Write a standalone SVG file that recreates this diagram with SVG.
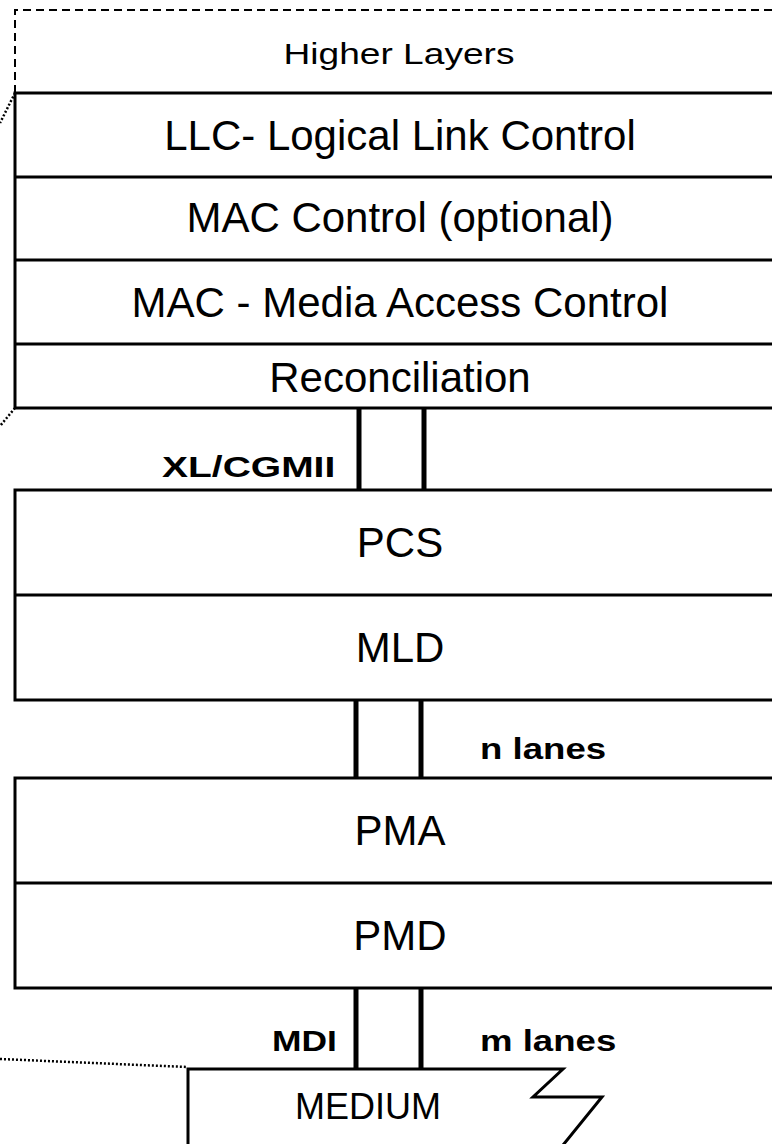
<svg xmlns="http://www.w3.org/2000/svg" width="772" height="1144" viewBox="0 0 772 1144">
  <style>
    .box { fill: #ffffff; stroke: #000000; stroke-width: 3; }
    .div { stroke: #000000; stroke-width: 3; fill: none; }
    .lane { stroke: #000000; stroke-width: 5; fill: none; }
    .dash { stroke: #000000; stroke-width: 2; fill: none; stroke-dasharray: 8 5; }
    .dot { stroke: #000000; stroke-width: 2.5; fill: none; stroke-dasharray: 2 2; }
    .t { font-family: "Liberation Sans", Arial, sans-serif; fill: #000000; text-anchor: middle; }
    .big { font-size: 42px; }
    .b { font-family: "Liberation Sans", Arial, sans-serif; font-weight: bold; fill: #000000; font-size: 30px; }
  </style>
  <rect x="0" y="0" width="772" height="1144" fill="#ffffff"/>

  <g id="connectors">
    <path class="dot" d="M15,93 L0,123"/>
    <path class="dot" d="M15,408 L0,426"/>
    <path class="dot" d="M0,1059 L187,1067"/>
    <path class="lane" d="M359,408 V490 M424,408 V490"/>
    <path class="lane" d="M356,700 V778 M421,700 V778"/>
    <path class="lane" d="M356,988 V1069 M421,988 V1069"/>
  </g>

  <g id="higher-layers">
    <path class="dash" d="M15,93 V10 H790"/>
    <text class="t" font-size="29" transform="translate(399,64) scale(1.28,1)">Higher Layers</text>
  </g>

  <g id="mac-stack">
    <rect class="box" x="15" y="93" width="775" height="315"/>
    <path class="div" d="M15,177 H790 M15,260 H790 M15,344 H790"/>
  </g>
  <g id="llc"><text class="t big" x="400" y="150">LLC- Logical Link Control</text></g>
  <g id="mac-control"><text class="t big" x="400" y="232">MAC Control (optional)</text></g>
  <g id="mac"><text class="t big" x="400" y="317">MAC - Media Access Control</text></g>
  <g id="reconciliation"><text class="t big" x="400" y="392">Reconciliation</text></g>

  <g id="xlcgmii-label"><text class="b" transform="translate(162,477) scale(1.3,1)">XL/CGMII</text></g>

  <g id="pcs-mld">
    <rect class="box" x="15" y="490" width="775" height="210"/>
    <path class="div" d="M15,595 H790"/>
  </g>
  <g id="pcs"><text class="t big" x="400" y="557">PCS</text></g>
  <g id="mld"><text class="t big" x="400" y="662">MLD</text></g>

  <g id="n-lanes-label"><text class="b" transform="translate(480,759) scale(1.22,1)">n lanes</text></g>

  <g id="pma-pmd">
    <rect class="box" x="15" y="778" width="775" height="210"/>
    <path class="div" d="M15,883 H790"/>
  </g>
  <g id="pma"><text class="t big" x="400" y="845">PMA</text></g>
  <g id="pmd"><text class="t big" x="400" y="950">PMD</text></g>

  <g id="mdi-label"><text class="b" transform="translate(272,1051) scale(1.18,1)">MDI</text></g>
  <g id="m-lanes-label"><text class="b" transform="translate(480,1051) scale(1.22,1)">m lanes</text></g>

  <g id="medium">
    <path class="box" d="M188,1150 L188,1069 L563,1069 L533,1097 L602,1097 L559,1150"/>
    <text class="t" x="368" y="1119" font-size="36">MEDIUM</text>
  </g>
</svg>
